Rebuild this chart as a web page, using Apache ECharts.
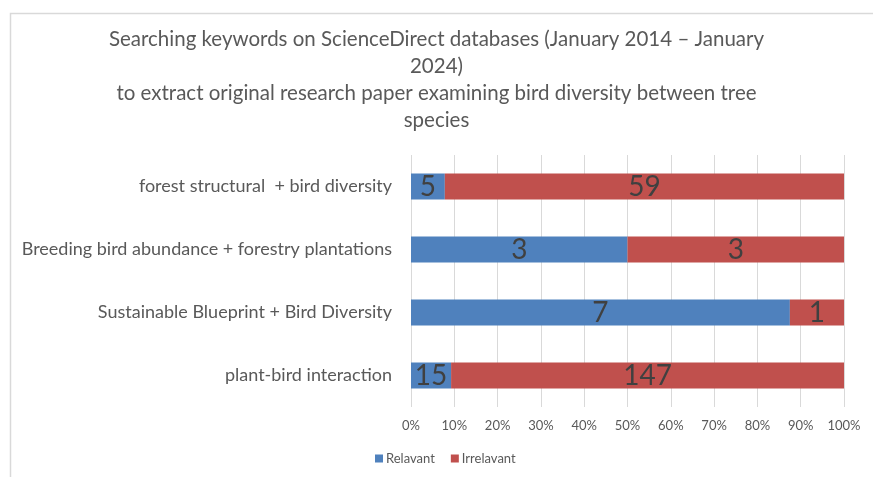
<!DOCTYPE html>
<html>
<head>
<meta charset="utf-8">
<script src="https://cdn.jsdelivr.net/npm/echarts@6/dist/echarts.min.js"></script>
<style>html,body{margin:0;padding:0;background:#fff;}#c{width:873px;height:477px;}</style>
</head>
<body>
<div id="c"></div>
<script>
const categories = [
  "forest structural  + bird diversity",
  "Breeding bird abundance + forestry plantations",
  "Sustainable Blueprint + Bird Diversity",
  "plant-bird interaction"
];
const relevant = [5, 3, 7, 15];
const irrelevant = [59, 3, 1, 147];
const xTicks = [0, 10, 20, 30, 40, 50, 60, 70, 80, 90, 100];

const totals = relevant.map((v, i) => v + irrelevant[i]);
const relPct = relevant.map((v, i) => v / totals[i] * 100);
const irrPct = irrelevant.map((v, i) => v / totals[i] * 100);

const FONT = 'Lato';
const chart = echarts.init(document.getElementById('c'), null, {renderer: 'canvas'});
chart.setOption({
  animation: false,
  backgroundColor: '#fff',
  graphic: [{
    type: 'rect', left: 8, top: 11, shape: {width: 900, height: 500},
    style: {fill: 'none', stroke: '#d9d9d9', lineWidth: 1.5}, silent: true, z: -1
  }],
  title: {
    text: 'Searching keywords on ScienceDirect databases (January 2014 \u2013 January\n2024)\nto extract original research paper examining bird diversity between tree\nspecies',
    left: 'center', top: 21,
    textStyle: {fontFamily: FONT, fontSize: 20.5, fontWeight: 'normal', color: '#595959', lineHeight: 27}
  },
  legend: {
    data: ['Relavant', 'Irrelavant'],
    left: 370, top: 447,
    itemWidth: 8, itemHeight: 8, itemGap: 16,
    icon: 'rect',
    textStyle: {fontFamily: FONT, fontSize: 13, color: '#595959', padding: [0, 0, 0, -2]}
  },
  grid: {left: 411, right: 29, top: 155, height: 252, containLabel: false},
  xAxis: {
    type: 'value', min: 0, max: 100, interval: 10,
    axisLine: {show: false}, axisTick: {show: false},
    splitLine: {show: true, lineStyle: {color: '#d9d9d9', width: 1}},
    axisLabel: {formatter: v => xTicks.includes(v) ? v + '%' : '', fontFamily: FONT, fontSize: 13, color: '#595959', margin: 12}
  },
  yAxis: {
    type: 'category', data: categories, inverse: true,
    axisLine: {show: false}, axisTick: {show: false},
    axisLabel: {fontFamily: FONT, fontSize: 18, color: '#595959', margin: 19}
  },
  series: [
    {
      name: 'Relavant', type: 'bar', stack: 'a', data: relPct, barWidth: 26,
      itemStyle: {color: '#4F81BD'},
      label: {show: true, position: 'inside', formatter: p => relevant[p.dataIndex], fontFamily: FONT, fontSize: 28, color: '#404040'}
    },
    {
      name: 'Irrelavant', type: 'bar', stack: 'a', data: irrPct, barWidth: 26,
      itemStyle: {color: '#C0504D'},
      label: {show: true, position: 'inside', formatter: p => irrelevant[p.dataIndex], fontFamily: FONT, fontSize: 28, color: '#404040'}
    }
  ]
});
</script>
</body>
</html>
